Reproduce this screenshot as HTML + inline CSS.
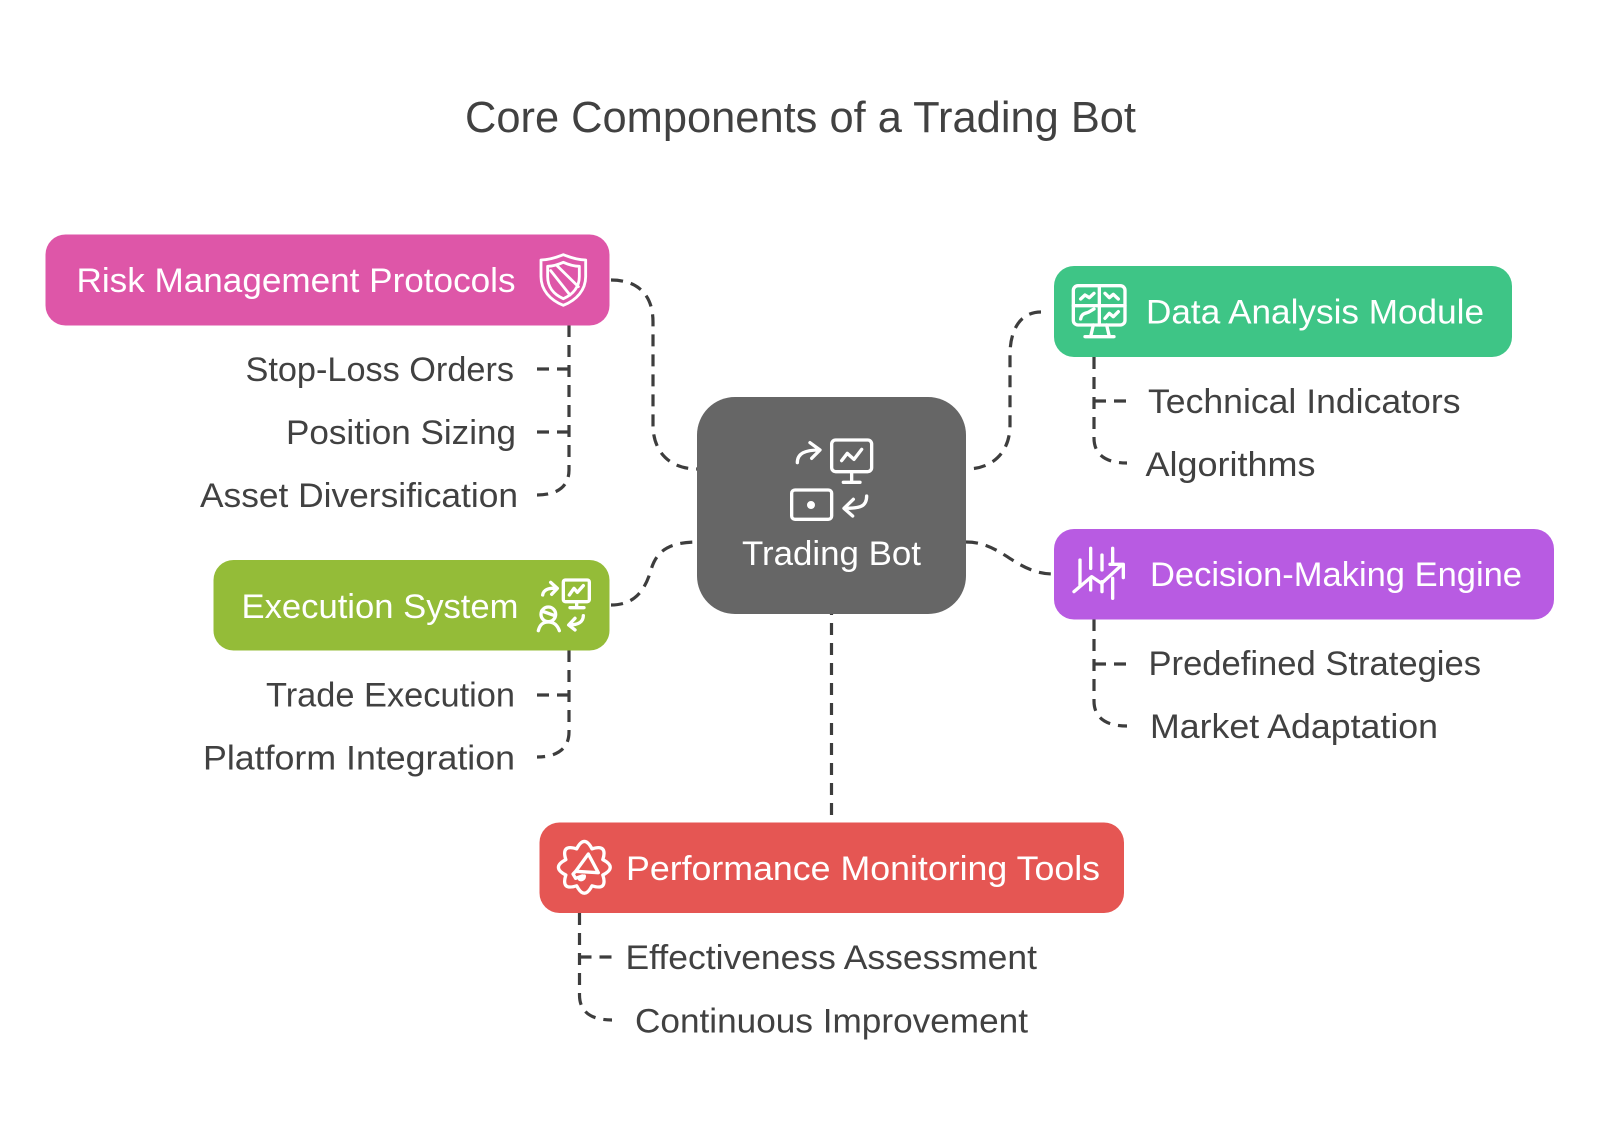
<!DOCTYPE html>
<html><head><meta charset="utf-8"><style>
html,body{margin:0;padding:0;background:#fff}
svg{display:block}
text{font-family:"Liberation Sans",Arial,sans-serif;font-size:34.5px;fill:#414141}
.w{fill:#fff}
.c{fill:none;stroke:#3d3d3d;stroke-width:3.2;stroke-dasharray:12 8}
.i{fill:none;stroke:#fff;stroke-width:10;stroke-linecap:round;stroke-linejoin:round}
</style></head><body>
<svg width="1600" height="1127" viewBox="0 0 1600 1127" xmlns="http://www.w3.org/2000/svg">
<rect width="1600" height="1127" fill="#fff"/>
<text x="465" y="132" textLength="671" lengthAdjust="spacingAndGlyphs" style="font-size:44px">Core Components of a Trading Bot</text>

<!-- connectors -->
<path class="c" d="M611 280C638 280 653 295 653 322V425C653 452 670 469 697 469"/>
<path class="c" d="M611 605C635 605 645 590 651 570C656 552 668 542 697 542"/>
<path class="c" d="M1041 312C1020 312 1010 330 1010 355V425C1010 452 993 469 966 469"/>
<path class="c" d="M966 542C1003 542 1015 574 1054 574"/>
<path class="c" d="M831.500 815V614"/>

<path class="c" d="M569 325V470C569 486 558 495 537 495"/>
<path class="c" d="M569 369H537"/><path class="c" d="M569 432H537"/>
<path class="c" d="M569 650V732C569 748 558 757 537 757"/>
<path class="c" d="M569 695H537"/>
<path class="c" d="M1094 357V438C1094 454 1105 463 1127 463"/>
<path class="c" d="M1094 401H1127"/>
<path class="c" d="M1094 619V701C1094 717 1105 726 1127 726"/>
<path class="c" d="M1094 664H1127"/>
<path class="c" d="M579.500 913V995C579.500 1011 590 1020 612 1020"/>
<path class="c" d="M579.500 957H612"/>

<!-- boxes -->
<rect x="45.500" y="234.500" width="564" height="91" rx="20" fill="#de56a8"/>
<rect x="213.500" y="560" width="396" height="90.500" rx="20" fill="#94bc38"/>
<rect x="697" y="397" width="269" height="217" rx="38" fill="#666666"/>
<rect x="1054" y="266" width="458" height="91" rx="20" fill="#3ec586"/>
<rect x="1054" y="529" width="500" height="90.500" rx="20" fill="#b85be2"/>
<rect x="539.500" y="822.500" width="584.500" height="90.500" rx="20" fill="#e55653"/>

<!-- box labels -->
<text class="w" x="76.500" y="292" textLength="439" lengthAdjust="spacingAndGlyphs">Risk Management Protocols</text>
<text class="w" x="241.500" y="618" textLength="277" lengthAdjust="spacingAndGlyphs">Execution System</text>
<text class="w" x="742" y="565" textLength="179" lengthAdjust="spacingAndGlyphs">Trading Bot</text>
<text class="w" x="1146" y="323.500" textLength="338" lengthAdjust="spacingAndGlyphs">Data Analysis Module</text>
<text class="w" x="1150" y="586" textLength="372" lengthAdjust="spacingAndGlyphs">Decision-Making Engine</text>
<text class="w" x="626" y="880" textLength="474" lengthAdjust="spacingAndGlyphs">Performance Monitoring Tools</text>

<!-- items -->
<text x="245.500" y="381" textLength="268.500" lengthAdjust="spacingAndGlyphs">Stop-Loss Orders</text>
<text x="286" y="444" textLength="230" lengthAdjust="spacingAndGlyphs">Position Sizing</text>
<text x="200" y="507" textLength="318" lengthAdjust="spacingAndGlyphs">Asset Diversification</text>
<text x="266" y="706.500" textLength="249" lengthAdjust="spacingAndGlyphs">Trade Execution</text>
<text x="203" y="769.500" textLength="312" lengthAdjust="spacingAndGlyphs">Platform Integration</text>
<text x="1148" y="413" textLength="312.500" lengthAdjust="spacingAndGlyphs">Technical Indicators</text>
<text x="1145.500" y="476" textLength="170" lengthAdjust="spacingAndGlyphs">Algorithms</text>
<text x="1148.500" y="675" textLength="332.500" lengthAdjust="spacingAndGlyphs">Predefined Strategies</text>
<text x="1150" y="738" textLength="288" lengthAdjust="spacingAndGlyphs">Market Adaptation</text>
<text x="625.500" y="969" textLength="411.500" lengthAdjust="spacingAndGlyphs">Effectiveness Assessment</text>
<text x="635" y="1032.500" textLength="393" lengthAdjust="spacingAndGlyphs">Continuous Improvement</text>

<!-- center icon -->
<g class="i" transform="translate(760 420) scale(.3333)">
<path d="M112 128C112 100 135 90 178 90M150 68L180 90L155 115"/>
<rect x="215" y="60" width="120" height="95" rx="12"/>
<path d="M245 122L262 100L282 118L305 88M275 155V185M250 187H300"/>
<rect x="95" y="210" width="120" height="88" rx="10"/>
<circle cx="153" cy="255" r="7" fill="#fff"/>
<path d="M320 228C320 260 300 265 255 265M280 238L252 265L278 288"/>
</g>
<!-- shield -->
<g class="i" transform="translate(520 240) scale(.3333)" style="stroke-width:8.500">
<path d="M130 44C160 56 178 60 197 60V110C197 150 170 180 130 196C90 180 63 150 63 110V60C82 60 100 56 130 44Z"/>
<path d="M130 67C150 76 165 79 178 79V110C178 140 160 163 130 176C100 163 83 140 83 110V79C95 79 110 76 130 67Z"/>
<path d="M92 92L150 165M112 78L175 140"/>
</g>
<!-- exec icon -->
<g class="i" transform="translate(520 565) scale(.3333)">
<path d="M68 90C70 75 85 68 110 70M92 52L112 70L95 88"/>
<rect x="130" y="45" width="78" height="65" rx="6"/>
<path d="M148 90L162 70L172 82L190 62M170 110V128M150 128H192"/>
<circle cx="85" cy="148" r="22"/>
<path d="M65 138L105 152M55 197C60 177 70 171 85 171C100 171 112 180 118 197"/>
<path d="M190 152C190 170 175 180 148 180M165 160L146 180L165 195"/>
</g>
<!-- data icon -->
<g class="i" transform="translate(1060 275) scale(.3333)">
<rect x="40" y="32" width="155" height="118" rx="14"/>
<path d="M118 32V150M40 92H195"/>
<path d="M62 72L75 60L88 68L102 55M135 55L148 68L160 58L175 72M62 132C65 115 75 115 85 112L102 102M135 130L148 115L160 125L175 110"/>
<path d="M100 150L92 185M140 150L148 185M75 185H162"/>
</g>
<!-- decision icon -->
<g class="i" transform="translate(1060 535) scale(.3333)">
<path d="M60 75V150M92 40V100M92 135V165M126 60V105M126 140V170M158 40V85M158 130V190"/>
<path d="M42 170L95 125L125 145L185 90M150 88H190V128"/>
</g>
<!-- gear icon -->
<g class="i" transform="translate(545 830) scale(.3333)">
<path d="M173.400 89Q218 112 173.400 135Q188.700 182.700 141 167.400Q118 212 95 167.400Q47.300 182.700 62.600 135Q18 112 62.600 89Q47.300 41.300 95 56.600Q118 12 141 56.600Q188.700 41.300 173.400 89Z"/>
<path d="M130 72L160 128L92 124ZM92 124L84 132L92 145L112 138M118 138A10 10 0 0 1 104 148"/>
</g>
</svg>
</body></html>
